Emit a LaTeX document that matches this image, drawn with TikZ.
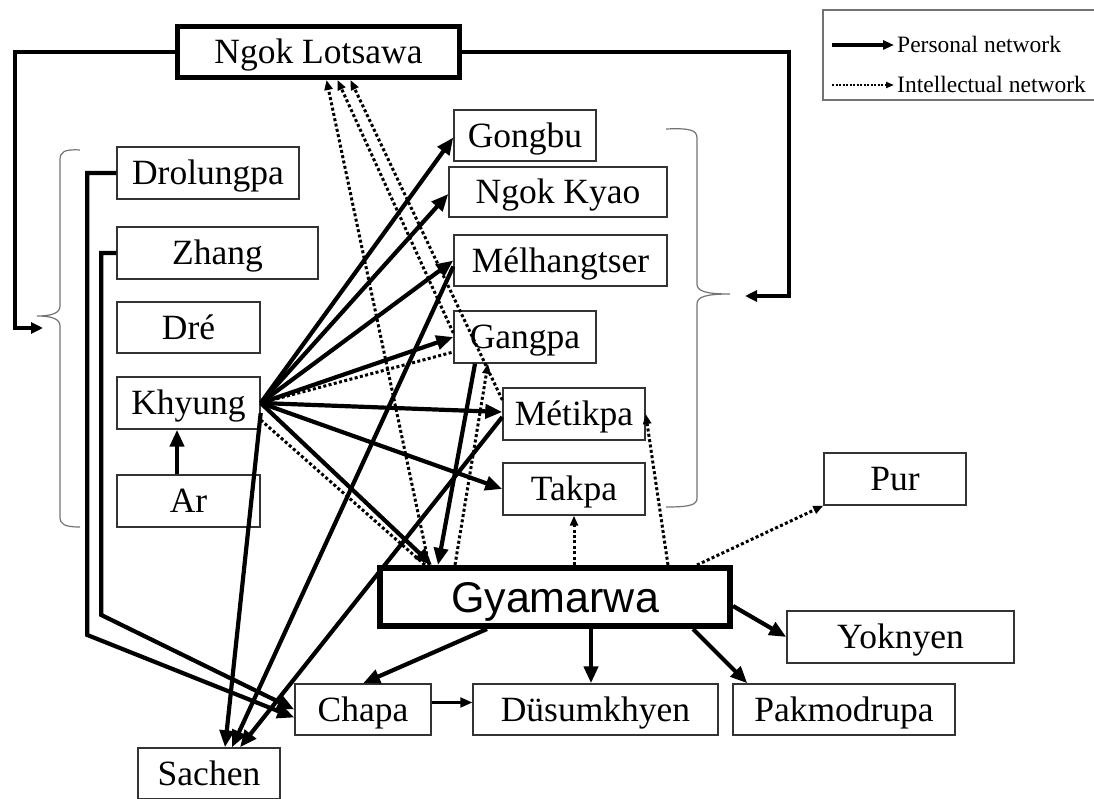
\documentclass[tikz,border=0pt]{standalone}
\usepackage{fontspec}
\setmainfont{Liberation Serif}
\newfontfamily\arialf{Liberation Sans}
\usetikzlibrary{arrows.meta,calc}
\begin{document}
\begin{tikzpicture}[x=1pt,y=-1pt,
  box/.style={draw=black!80, line width=1.4pt, inner sep=0pt, font=\fontsize{35.5}{40}\selectfont, text height=23.5pt, text depth=0pt},
  bigbox/.style={draw=black, line width=5pt, inner sep=0pt, font=\fontsize{35.5}{40}\selectfont, text height=23.5pt, text depth=0pt},
  parr/.style={line width=4.2pt, -{Triangle[length=17pt,width=14pt]}},
  parrs/.style={line width=3.2pt, -{Triangle[length=12pt,width=11pt]}},
  parrt/.style={line width=2.2pt, -{Triangle[length=12pt,width=10pt]}},
  iarr/.style={line width=3pt, dash pattern=on 3pt off 2.4pt, -{Triangle[length=10pt,width=8pt]}},
  iline/.style={line width=3pt, dash pattern=on 3pt off 2.4pt},
  bracestyle/.style={draw=black!55, line width=1.2pt},
  legtext/.style={anchor=west, inner sep=0pt, font=\fontsize{23.5}{26}\selectfont, text height=15.6pt, text depth=0pt}
]
\useasboundingbox (0,0) rectangle (1094,799);

% nodes
\node[bigbox, minimum width=282pt, minimum height=51pt] (ngok) at (318.5,52) {Ngok Lotsawa};
\node[box, minimum width=182pt, minimum height=52pt] (drol) at (208,173) {Drolungpa};
\node[box, minimum width=201pt, minimum height=52pt] (zhang) at (217.5,253) {Zhang};
\node[box, minimum width=143pt, minimum height=51pt] (dre) at (188.5,327.5) {Dré};
\node[box, minimum width=143pt, minimum height=52pt] (khyung) at (188.5,403) {Khyung};
\node[box, minimum width=143pt, minimum height=52pt] (ar) at (188.5,501) {Ar};
\node[box, minimum width=142pt, minimum height=51pt] (gongbu) at (525,135.5) {Gongbu};
\node[box, minimum width=218pt, minimum height=50pt] (kyao) at (558,192) {Ngok Kyao};
\node[box, minimum width=213pt, minimum height=51pt] (mel) at (560.5,260.5) {Mélhangtser};
\node[box, minimum width=142pt, minimum height=52pt] (gangpa) at (525,337) {Gangpa};
\node[box, minimum width=142pt, minimum height=52pt] (metik) at (574,414) {Métikpa};
\node[box, minimum width=142pt, minimum height=52pt] (takpa) at (574,489) {Takpa};
\node[box, minimum width=142pt, minimum height=52pt] (pur) at (895,479) {Pur};
\node[bigbox, line width=6pt, minimum width=350pt, minimum height=58pt, font=\arialf\fontsize{43}{48}\selectfont, text height=30.8pt] (gyam) at (555,597) {Gyamarwa};
\node[box, minimum width=227pt, minimum height=52pt] (yok) at (900.5,637) {Yoknyen};
\node[box, minimum width=136pt, minimum height=51pt] (chapa) at (363,709.5) {Chapa};
\node[box, minimum width=245pt, minimum height=51pt] (dus) at (595.5,709.5) {Düsumkhyen};
\node[box, minimum width=222pt, minimum height=51pt] (pak) at (844,709.5) {Pakmodrupa};
\node[box, minimum width=142pt, minimum height=51pt] (sachen) at (209,773.5) {Sachen};

% braces
\draw[bracestyle] (80,150) .. controls (64,149) and (60,152) .. (60,160) -- (60,306)
  .. controls (60,313) and (52,316) .. (37,316) .. controls (52,316) and (60,319) .. (60,326)
  -- (60,517) .. controls (60,524) and (64,527) .. (80,527);
\draw[bracestyle] (666,129) .. controls (690,128) and (697,130) .. (697,138) -- (697,284)
  .. controls (697,291) and (705,294) .. (730,294) .. controls (705,294) and (697,297) .. (697,304)
  -- (697,498) .. controls (697,505) and (690,507) .. (666,507);

% Ngok Lotsawa to the two groups
\coordinate (lb) at (43,328);
\coordinate (rb) at (745,296);
\draw[parrs] (ngok.west) -- ++(-160,0) |- (lb);
\draw[parrs] (ngok.east) -- ++(327,0) |- (rb);

% Khyung personal network
\draw[parr] (khyung.east) -- ([yshift=-2pt]gongbu.west);
\draw[parr] (khyung.east) -- ([yshift=-2pt]kyao.west);
\draw[parr] (khyung.east) -- (mel.west);
\draw[parr] (khyung.east) -- (gangpa.west);
\draw[parr] (khyung.east) -- ([yshift=2pt]metik.west);
\draw[parr] (khyung.east) -- (takpa.west);
\draw[parr] (khyung.east) -- ([xshift=-123pt]gyam.north);
\draw[parr] ([yshift=-10pt]khyung.east) -- ([xshift=16pt]sachen.north);
\draw[parr] ([xshift=-11.5pt]ar.north) -- ([xshift=-11.5pt]khyung.south);

% to Sachen
\draw[parr] ([yshift=-6pt]mel.west) -- ([xshift=23pt]sachen.north);
\draw[parr] ([yshift=-3pt]metik.west) -- ([xshift=31pt]sachen.north);

% Gangpa to Gyamarwa
\draw[parr] ([xshift=-50pt]gangpa.south) -- ([xshift=-117pt]gyam.north);

% Gyamarwa personal network
\draw[parr] ([xshift=-68pt]gyam.south) -- (chapa.north);
\draw[parr] ([xshift=36pt]gyam.south) -- ([xshift=-4.5pt]dus.north);
\draw[parr] ([xshift=138pt]gyam.south) -- ([xshift=15pt]pak.north west);
\draw[parr] ([yshift=-9pt]gyam.east) -- (yok.west);
\draw[parrt] ([yshift=7pt]chapa.east) -- ([yshift=7pt]dus.west);

% Drolungpa and Zhang to Chapa
\draw[parr] (drol.west) -- ++(-29,0) -- ++(0,462) -- ([yshift=-8pt]chapa.west);
\draw[parr] (zhang.west) -- ++(-15,0) -- ++(0,362) -- (chapa.west);

% intellectual network
\draw[iarr] ([xshift=-126pt]gyam.north) -- ([xshift=8pt]ngok.south);
\draw[iarr] ([yshift=4pt]gangpa.west) -- ([xshift=19pt]ngok.south);
\draw[iarr] ([yshift=14pt]metik.west) -- ([xshift=32pt]ngok.south);
\draw[iarr] ([xshift=-100pt]gyam.north) -- ([xshift=-37pt]gangpa.south);
\draw[iarr] ([xshift=19pt]gyam.north) -- (takpa.south);
\draw[iarr] ([xshift=113pt]gyam.north) -- (metik.east);
\draw[iarr] ([xshift=142pt]gyam.north) -- (pur.south west);
\draw[iline] (khyung.east) -- ([yshift=-15pt]gangpa.west);
\draw[iline] ([yshift=-17pt]khyung.east) -- ([xshift=-130pt]gyam.north);

% legend
\draw[draw=black!55, line width=1.2pt] (1096,10) -- (823,10) -- (823,100) -- (1096,100);
\coordinate (l1a) at (832,45); \coordinate (l1b) at (894,45);
\coordinate (l2a) at (832,85); \coordinate (l2b) at (894,85);
\draw[line width=3.2pt, -{Triangle[length=11pt,width=9pt]}] (l1a) -- (l1b);
\draw[line width=2pt, dash pattern=on 2pt off 1.5pt, -{Triangle[length=8pt,width=6pt]}] (l2a) -- (l2b);
\node[legtext] (lt1) at (897,45) {Personal network};
\node[legtext] (lt2) at (897,85) {Intellectual network};
\end{tikzpicture}
\end{document}
